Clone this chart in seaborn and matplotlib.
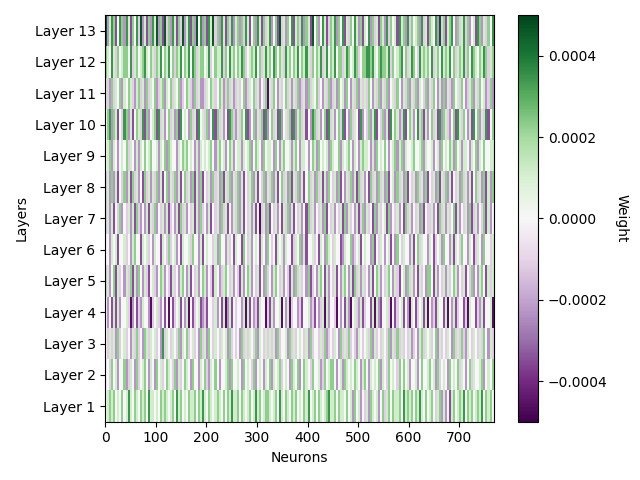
import numpy as np
import pandas as pd
import matplotlib
matplotlib.use("Agg")
import matplotlib.pyplot as plt
import seaborn as sns

# weight levels, one digit per block of 4 neurons
# 1 = dark purple ... 5 = white ... 9 = dark green
layer_names = [f"Layer {i}" for i in range(1, 14)]
neuron_ticks = [0, 100, 200, 300, 400, 500, 600, 700]

layer_13 = ("93687258 73862758 49362738 69372947 38627493 68273958 37286947 38627483 "
            "67374862 57386274 68357294 63758267 48376295 73586247 68375826 47586372 "
            "65837462 76384756 28673847 56738462 76583947 26785374 68473562 87364758")
layer_12 = ("76586475 67758467 56786576 47685768 57476857 68587467 75684576 68475867 "
            "57687456 76857468 67587576 48675768 57686475 76846857 68577468 75687457 "
            "78878657 87768475 67857468 75486767 58467586 76857467 68475876 57687467")
layer_11 = ("64374657 36576436 74637465 73467365 74657345 76437463 34657645 76347463 "
            "46457346 57463547 16475364 57463647 34637465 74536473 46375637 53647364 "
            "64753647 36473564 75364736 47365473 64753637 36437564 75346736 47563473")
layer_10 = ("57837625 48736257 64827356 72846357 46372856 53746285 64735827 46352874 "
            "36475823 57364728 35746283 56472836 74625387 46357284 63574825 37465283 "
            "54736825 47362857 63482576 35847263 57462837 64357286 47536285 73648257")
layer_09 = ("56736535 65746536 36575675 56365737 65536576 75653636 56567536 75635763 "
            "56636567 35765375 66537536 75563675 36653576 37565637 65573656 75365367 "
            "66536375 65753567 36736556 75567365 56356375 65763756 36653657 36575566")
layer_08 = ("46373625 47362746 35274636 47362573 64736257 46372637 25463746 37264736 "
            "47362546 73625473 64736257 46372647 36257463 74626375 46372536 47362746 "
            "35274637 46372563 74637254 63746372 54637264 73625463 74636257 46372637")
layer_07 = ("46362547 35463627 43536264 73546362 45362746 35462637 45362546 37462536 "
            "47362546 36251463 72546352 64736254 63527463 54637254 63546273 64536247 "
            "36452736 45627354 63527463 54637254 46352746 36457263 54637246 35472635")
layer_06 = ("55365625 56453675 52656453 65526547 45635265 56475536 25655463 75536452 "
            "65527546 35652653 75452656 36552465 73625564 52653765 46552365 57345625 "
            "65537254 65356253 75465536 25746553 65245637 55362654 75536524 65375546")
layer_05 = ("46357264 53647263 75364256 43576354 26453675 36254635 76354265 34675463 "
            "54263576 35462537 45367546 35426374 64537245 36752635 46253675 36274636 "
            "45362576 35467536 42563746 35264537 75263546 36457635 46254735 36752646")
layer_04 = ("53526263 55641352 43655314 56435251 52456253 61524562 34255463 52613625 "
            "45536162 53426551 42635561 53614553 42556342 53461635 54153526 31564362 "
            "45526163 25564152 45625316 52456261 53426552 61536245 52416552 43625561")
layer_03 = ("54646374 56453647 45376465 64538465 46547365 74564537 46375465 46563745 "
            "45374646 54736546 46463745 56374645 65463745 54647345 46537464 74543654 "
            "56473645 46547364 74645463 45367465 64573645 46537464 74365465 46475364")
layer_02 = ("55475635 57346537 45675365 37564576 54736457 65375536 57436575 35567375 "
            "56537565 47356536 57365674 56537657 35765475 56347567 75356376 56576536 "
            "75365657 36547565 47575635 56357556 75637456 53756574 65357465 56735657")
layer_01 = ("56767565 75686576 57675866 56576765 67586756 57667576 86576567 65757686 "
            "67576567 56867567 76567586 57657675 65768567 57656786 67576657 56375635 "
            "46376563 57467576 67586767 57686575 67546736 35267567 68576756 76857675")

layers = [layer_01, layer_02, layer_03, layer_04, layer_05, layer_06, layer_07,
          layer_08, layer_09, layer_10, layer_11, layer_12, layer_13]


def decode(codes):
    digits = np.array([int(c) for c in codes.replace(" ", "")])
    w = (digits - 5) * 0.000115
    return np.repeat(w, 4)  # each digit covers 4 neurons


weights = np.vstack([decode(c) for c in layers])
df = pd.DataFrame(weights[::-1], index=layer_names[::-1])

fig, ax = plt.subplots(figsize=(6.4, 4.8), dpi=100)
sns.heatmap(df, cmap="PRGn", vmin=-0.0005, vmax=0.0005, ax=ax,
            xticklabels=False, yticklabels=False)

ax.set_xticks(neuron_ticks)
ax.set_xticklabels([str(t) for t in neuron_ticks], rotation=0)
ax.set_yticks(np.arange(len(layer_names)) + 0.5)
ax.set_yticklabels(layer_names[::-1], rotation=0)
ax.tick_params(length=3.5, width=0.8)
for s in ax.spines.values():
    s.set_visible(True)
    s.set_linewidth(0.8)

ax.set_xlabel("Neurons")
ax.set_ylabel("Layers")

cbar = ax.collections[0].colorbar
cbar.outline.set_visible(True)
cbar.outline.set_linewidth(0.8)
cbar.set_label("Weight", rotation=270, labelpad=15)
cbar.ax.tick_params(length=3.5, width=0.8)

plt.tight_layout()
plt.savefig("out.png", dpi=100)
